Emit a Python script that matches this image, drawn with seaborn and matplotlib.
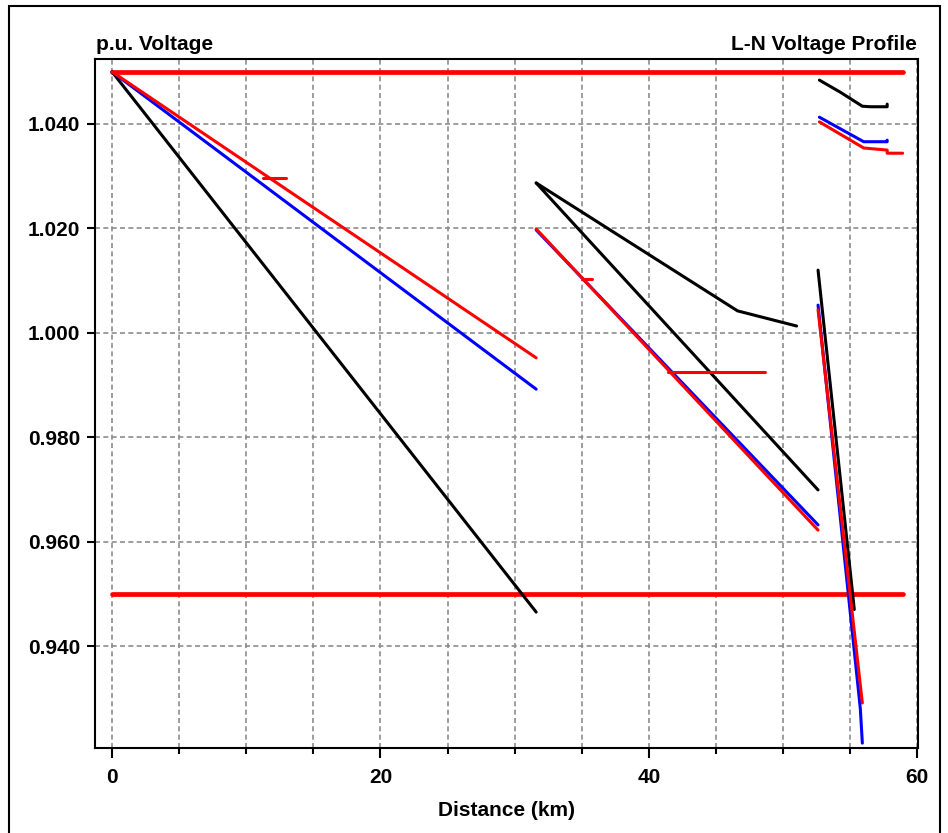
import matplotlib
matplotlib.use("Agg")
import matplotlib.pyplot as plt
from matplotlib.patches import Rectangle
from matplotlib.ticker import MultipleLocator, FormatStrFormatter
import seaborn as sns
import pandas as pd

# Voltage limits (p.u.) drawn across the feeder length
limit_d = [0, 58.9]
upper_limit = [1.05, 1.05]
lower_limit = [0.95, 0.95]

# Main trunk from the substation
black_main_d = [0, 31.6]
black_main_v = [1.05, 0.9465]
blue_main_d = [0, 31.6]
blue_main_v = [1.05, 0.9892]
red_main_d = [0, 31.6]
red_main_v = [1.05, 0.9952]
red_tap1_d = [11.25, 12.97]
red_tap1_v = [1.0297, 1.0297]

# Middle section (after regulator)
black_mid1_d = [31.6, 46.6, 51.0]
black_mid1_v = [1.0287, 1.0042, 1.0013]
black_mid2_d = [31.6, 52.6]
black_mid2_v = [1.0287, 0.9699]
blue_mid_d = [31.6, 52.6]
blue_mid_v = [1.0197, 0.9632]
red_mid_d = [31.6, 52.6]
red_mid_v = [1.0199, 0.9622]
red_tap2_d = [35.0, 35.77]
red_tap2_v = [1.0103, 1.0103]
red_tap3_d = [41.4, 48.66]
red_tap3_v = [0.9925, 0.9925]

# Far end, top group
black_end_d = [52.7, 54.25, 55.9, 56.5, 57.75, 57.75]
black_end_v = [1.0484, 1.0461, 1.0434, 1.0433, 1.0433, 1.0438]
blue_end_d = [52.7, 56.0, 57.75, 57.75]
blue_end_v = [1.0413, 1.0366, 1.0366, 1.0369]
red_end_d = [52.7, 56.0, 57.75, 57.75, 58.9]
red_end_v = [1.0404, 1.0354, 1.0350, 1.0344, 1.0344]

# Far end, steep drop
black_drop_d = [52.6, 55.3]
black_drop_v = [1.0120, 0.9470]
blue_drop_d = [52.6, 55.75, 55.9]
blue_drop_v = [1.0053, 0.9280, 0.9214]
red_drop_d = [52.6, 55.9]
red_drop_v = [1.0044, 0.9291]

segments = [
    (black_main_d, black_main_v, "black"),
    (blue_main_d, blue_main_v, "blue"),
    (red_main_d, red_main_v, "red"),
    (red_tap1_d, red_tap1_v, "red"),
    (black_mid1_d, black_mid1_v, "black"),
    (black_mid2_d, black_mid2_v, "black"),
    (blue_mid_d, blue_mid_v, "blue"),
    (red_mid_d, red_mid_v, "red"),
    (red_tap2_d, red_tap2_v, "red"),
    (red_tap3_d, red_tap3_v, "red"),
    (black_end_d, black_end_v, "black"),
    (blue_end_d, blue_end_v, "blue"),
    (red_end_d, red_end_v, "red"),
    (black_drop_d, black_drop_v, "black"),
    (blue_drop_d, blue_drop_v, "blue"),
    (red_drop_d, red_drop_v, "red"),
]

sns.set_style("white")
plt.rcParams['font.family'] = ['Liberation Sans', 'DejaVu Sans']
plt.rcParams['font.weight'] = 'bold'
for key in ['text.color', 'xtick.color', 'ytick.color', 'axes.labelcolor']:
    plt.rcParams[key] = 'black'

fig = plt.figure(figsize=(9.48, 8.33), dpi=100)
ax = fig.add_axes([0.1002, 0.1020, 0.8682, 0.8272])

# limit lines
for lim in [upper_limit, lower_limit]:
    sns.lineplot(x=limit_d, y=lim, color="red", linewidth=3.4, ax=ax,
                 estimator=None, sort=False, zorder=2)

for d, v, c in segments:
    df = pd.DataFrame({'d': d, 'v': v})
    sns.lineplot(data=df, x='d', y='v', color=c, linewidth=2.2, ax=ax,
                 estimator=None, sort=False, zorder=3)

ax.set_xlim(-1.27, 60.05)
ax.set_ylim(0.92046, 1.05245)
ax.xaxis.set_major_locator(MultipleLocator(20))
ax.xaxis.set_minor_locator(MultipleLocator(5))
ax.yaxis.set_major_locator(MultipleLocator(0.02))
ax.yaxis.set_major_formatter(FormatStrFormatter('%.3f'))

ax.grid(True, which='both', axis='x', color='#8c8c8c', linestyle=(0, (3, 2)), linewidth=1.2)
ax.grid(True, which='major', axis='y', color='#8c8c8c', linestyle=(0, (3, 2)), linewidth=1.2)
ax.set_axisbelow(True)

for s in ax.spines.values():
    s.set_color('black')
    s.set_linewidth(1.5)

ax.tick_params(axis='x', which='major', length=7.2, width=1.5, pad=7.5, labelsize=15, bottom=True)
ax.tick_params(axis='x', which='minor', length=4.3, width=1.5, bottom=True)
ax.tick_params(axis='y', which='major', length=5.8, width=1.5, pad=5, labelsize=15, left=True)
for lbl in ax.get_xticklabels() + ax.get_yticklabels():
    lbl.set_fontweight('bold')

ax.set_xlabel('Distance (km)', fontsize=15, fontweight='bold', labelpad=9.5)
ax.set_ylabel('')

ax.annotate('p.u. Voltage', xy=(0, 1), xycoords='axes fraction', xytext=(0.5, 6.5),
            textcoords='offset points', ha='left', va='baseline',
            fontsize=15, fontweight='bold')
ax.annotate('L-N Voltage Profile', xy=(1, 1), xycoords='axes fraction', xytext=(-0.5, 6.5),
            textcoords='offset points', ha='right', va='baseline',
            fontsize=15, fontweight='bold')

# outer frame of the figure
fig.patches.append(Rectangle((9 / 948, -0.05), 931 / 948, 1.05 - 6 / 833,
                             transform=fig.transFigure, fill=False,
                             edgecolor='black', linewidth=1.5, clip_on=False))

fig.savefig('out.png', dpi=100)
